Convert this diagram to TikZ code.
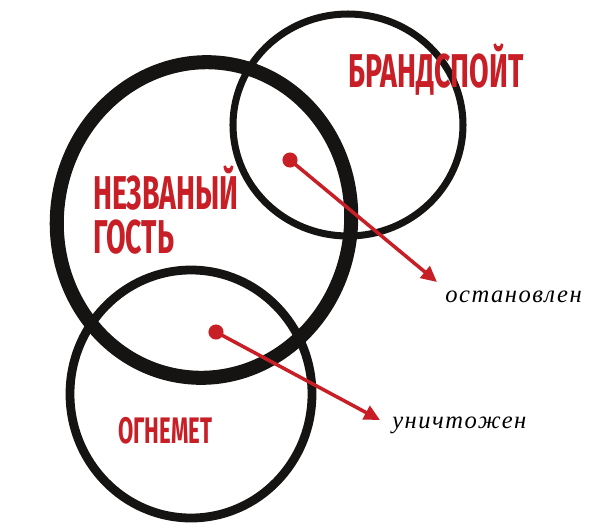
\documentclass[tikz,border=0pt]{standalone}
\usepackage{fontspec}
\setmainfont{Liberation Serif}
\newfontfamily\headfont[FakeStretch=0.6]{Fira Sans Bold}
\usetikzlibrary{arrows.meta}
\definecolor{inkred}{RGB}{200,30,38}
\definecolor{ink}{RGB}{22,20,18}
\tikzset{ring/.style={draw=ink,line width=#1}}
\tikzset{head/.style={text=inkred,font=\headfont\fontsize{27}{25}\selectfont,inner sep=0pt,align=left}}
\tikzset{dot/.style={circle,fill=inkred,minimum size=8.6pt,inner sep=0pt}}
\tikzset{note/.style={font=\itshape\addfontfeature{LetterSpace=6}\fontsize{14}{14}\selectfont,inner sep=0pt}}
\tikzset{pointer/.style={draw=inkred,line width=2pt,-{Triangle[length=9pt,width=8.5pt]}}}

\begin{document}
\begin{tikzpicture}[x=0.02cm,y=-0.02cm]
      \useasboundingbox (0,0) rectangle (600,529);
      % the three rings
      \draw[ring=8pt,rotate around={-8:(204,220)}] (204,220) ellipse (147 and 158);
      \draw[ring=4pt] (348,125) ellipse (115 and 111);
      \draw[ring=5pt] (191,394) ellipse (121 and 124);
      % labels
      \node[head,anchor=base west] (H1) at (348,87) {БРАНДСПОЙТ};
      \node[head,anchor=base west] (H2) at (93,253) {НЕЗВАНЫЙ\\ГОСТЬ};
      \node[head,font=\headfont\fontsize{21}{21}\selectfont,anchor=base west] (H3) at (118,443) {ОГНЕМЕТ};
      % dots and pointers
      \node[dot] (D1) at (290,160) {};
      \node[dot] (D2) at (216,332) {};
      \coordinate (E1) at (437,282);
      \coordinate (E2) at (380,420);
      \node[note,anchor=base west] (N1) at (445,302) {остановлен};
      \node[note,anchor=base west] (N2) at (392,428) {уничтожен};
      \foreach \a/\b in {D1/E1,D2/E2}
        \draw[pointer] (\a.center) -- (\b);
\end{tikzpicture}
\end{document}
